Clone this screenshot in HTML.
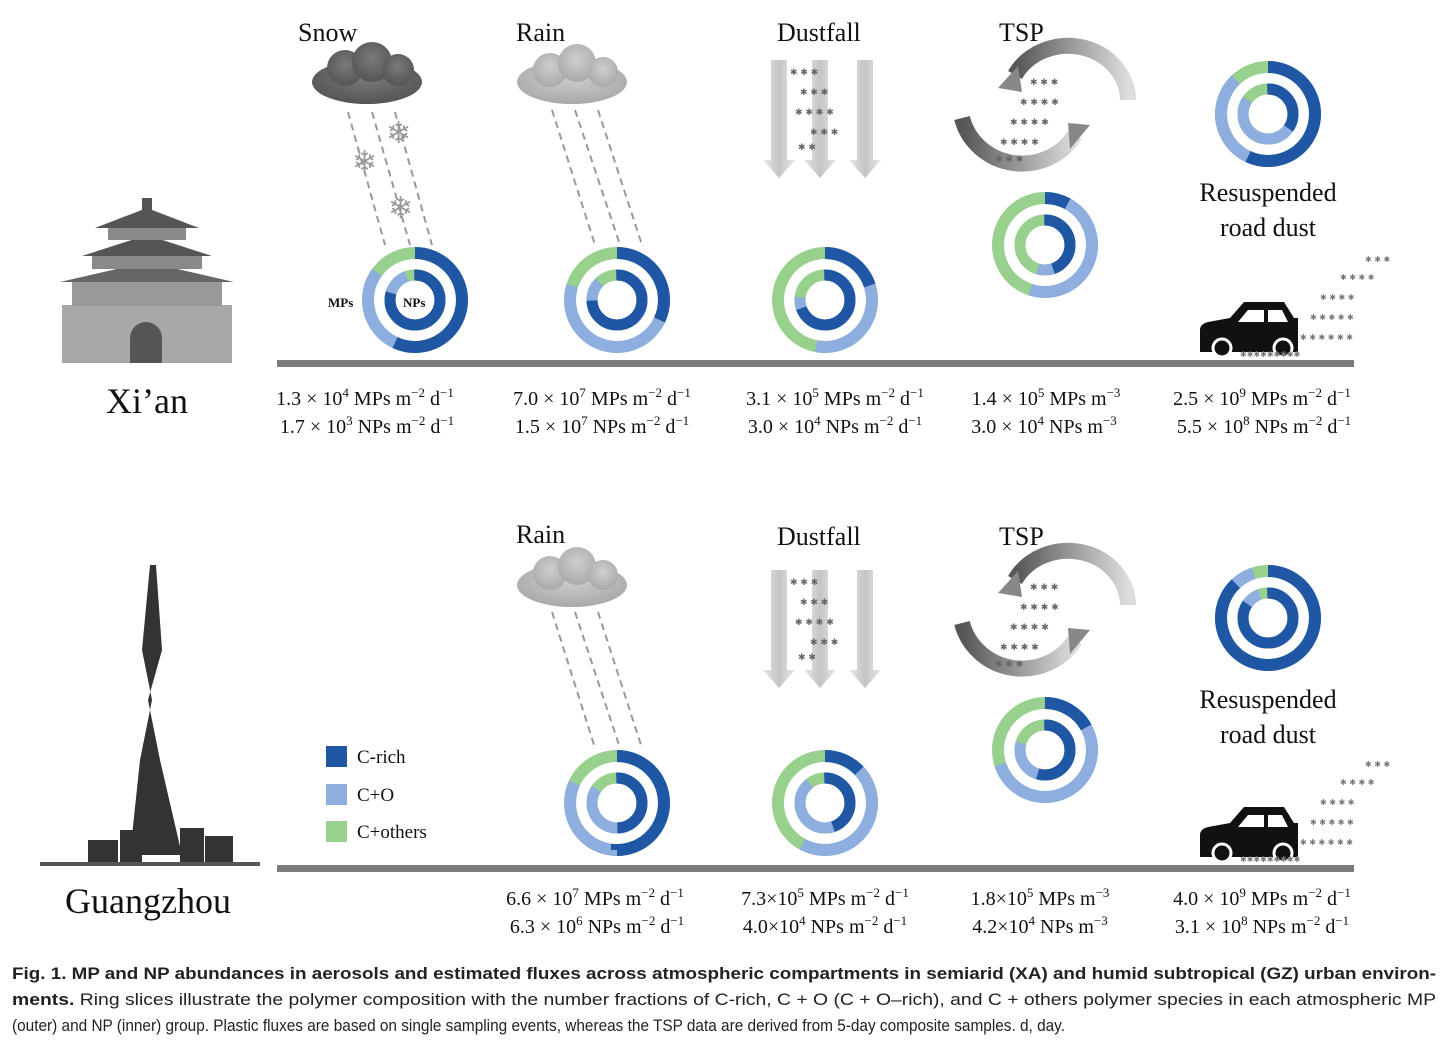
<!DOCTYPE html>
<html><head><meta charset="utf-8"><style>
html,body{margin:0;padding:0;background:#fff;}
svg{display:block;}
.t{font-family:"Liberation Serif",serif;fill:#111;}
.c{font-family:"Liberation Sans",sans-serif;fill:#222;font-size:17px;}
</style></head><body>
<svg width="1448" height="1048" viewBox="0 0 1448 1048" xmlns="http://www.w3.org/2000/svg">
<defs>
<g id="db"></g>
<radialGradient id="cl" cx="0.5" cy="0.4" r="0.6"><stop offset="0" stop-color="#cfcfcf"/><stop offset="1" stop-color="#a9a9a9"/></radialGradient>
<radialGradient id="cd" cx="0.5" cy="0.4" r="0.6"><stop offset="0" stop-color="#7a7a7a"/><stop offset="1" stop-color="#555"/></radialGradient>
<linearGradient id="ar" x1="0" x2="1"><stop offset="0" stop-color="#e8e8e8"/><stop offset="0.5" stop-color="#c4c4c4"/><stop offset="1" stop-color="#e8e8e8"/></linearGradient>
<linearGradient id="sw" x1="0" x2="1"><stop offset="0" stop-color="#555"/><stop offset="1" stop-color="#ddd"/></linearGradient>
</defs>

<!-- ground lines -->
<rect x="277" y="360" width="1077" height="7" fill="#7b7b7b"/>
<rect x="277" y="865" width="1077" height="7" fill="#7b7b7b"/>

<!-- titles -->
<g class="t" font-size="26">
<text x="298" y="41">Snow</text><text x="516" y="41">Rain</text><text x="777" y="41">Dustfall</text><text x="999" y="41">TSP</text>
<text x="516" y="543">Rain</text><text x="777" y="545">Dustfall</text><text x="999" y="545">TSP</text>
<text x="1268" y="201" text-anchor="middle">Resuspended</text><text x="1268" y="236" text-anchor="middle">road dust</text>
<text x="1268" y="708" text-anchor="middle">Resuspended</text><text x="1268" y="743" text-anchor="middle">road dust</text>
</g>
<text class="t" x="147" y="413" font-size="36" text-anchor="middle">Xi’an</text>
<text class="t" x="148" y="913" font-size="36" text-anchor="middle">Guangzhou</text>

<!-- clouds -->
<g fill="url(#cd)"><ellipse cx="367" cy="82" rx="55" ry="22"/><circle cx="345" cy="68" r="18"/><circle cx="372" cy="62" r="20"/><circle cx="398" cy="70" r="16"/></g>
<g fill="url(#cl)"><ellipse cx="572" cy="82" rx="55" ry="22"/><circle cx="550" cy="70" r="17"/><circle cx="577" cy="63" r="19"/><circle cx="603" cy="72" r="15"/></g>
<g fill="url(#cl)"><ellipse cx="572" cy="585" rx="55" ry="22"/><circle cx="550" cy="573" r="17"/><circle cx="577" cy="566" r="19"/><circle cx="603" cy="575" r="15"/></g>
<!-- precipitation lines -->
<g stroke="#999" stroke-width="2" stroke-dasharray="7 5">
<line x1="348" y1="112" x2="385" y2="245"/><line x1="372" y1="112" x2="410" y2="245"/><line x1="395" y1="112" x2="432" y2="245"/>
<line x1="552" y1="110" x2="595" y2="245"/><line x1="575" y1="110" x2="620" y2="245"/><line x1="598" y1="110" x2="642" y2="245"/>
<line x1="552" y1="612" x2="595" y2="748"/><line x1="575" y1="612" x2="620" y2="748"/><line x1="598" y1="612" x2="642" y2="748"/>
</g>
<g fill="#999" font-size="30" font-family="DejaVu Sans"><text x="352" y="172">❄</text><text x="386" y="143">❄</text><text x="388" y="218">❄</text></g>

<!-- dustfall arrows -->
<g fill="url(#ar)">
<path d="M771 60h16v100h8l-16 18l-16-18h8z"/><path d="M812 60h16v100h8l-16 18l-16-18h8z"/><path d="M857 60h16v100h8l-16 18l-16-18h8z"/>
<path d="M771 570h16v100h8l-16 18l-16-18h8z"/><path d="M812 570h16v100h8l-16 18l-16-18h8z"/><path d="M857 570h16v100h8l-16 18l-16-18h8z"/>
</g>
<g fill="#666" font-size="9" font-family="DejaVu Sans">
<text x="790" y="75">✱ ✱  ✱</text><text x="800" y="95">✱  ✱ ✱</text><text x="795" y="115">✱ ✱  ✱ ✱</text><text x="810" y="135">✱ ✱ ✱</text><text x="798" y="150">✱  ✱</text>
<text x="790" y="585">✱ ✱  ✱</text><text x="800" y="605">✱  ✱ ✱</text><text x="795" y="625">✱ ✱  ✱ ✱</text><text x="810" y="645">✱ ✱ ✱</text><text x="798" y="660">✱  ✱</text>
</g>
<!-- TSP swirl -->
<g fill="none" stroke-width="16">
<path d="M1128 100 A60 55 0 0 0 1015 75" stroke="url(#sw)"/><path d="M962 118 A62 60 0 0 0 1075 135" stroke="url(#sw)"/>
<path d="M1128 605 A60 55 0 0 0 1015 580" stroke="url(#sw)"/><path d="M962 623 A62 60 0 0 0 1075 640" stroke="url(#sw)"/>
</g>
<g fill="#888"><path d="M998 88l20-22l4 26z"/><path d="M1090 125l-20 24l-2-26z"/><path d="M998 593l20-22l4 26z"/><path d="M1090 630l-20 24l-2-26z"/></g>
<g fill="#666" font-size="9" font-family="DejaVu Sans">
<text x="1030" y="85">✱ ✱ ✱</text><text x="1020" y="105">✱ ✱ ✱ ✱</text><text x="1010" y="125">✱ ✱  ✱ ✱</text><text x="1000" y="145">✱ ✱ ✱ ✱</text><text x="995" y="162">✱ ✱ ✱</text>
<text x="1030" y="590">✱ ✱ ✱</text><text x="1020" y="610">✱ ✱ ✱ ✱</text><text x="1010" y="630">✱ ✱  ✱ ✱</text><text x="1000" y="650">✱ ✱ ✱ ✱</text><text x="995" y="667">✱ ✱ ✱</text>
</g>

<!-- cars -->
<g id="car">
<path d="M1200 352 v-22 q0-6 8-8 l22-4 l14-16 h40 l10 16 h4 v34 z" fill="#111"/>
<path d="M1248 310 h16 v12 h-26z M1268 310 h14 l6 12 h-20z" fill="#fff"/>
<circle cx="1222" cy="348" r="9" fill="#111" stroke="#fff" stroke-width="3"/><circle cx="1283" cy="348" r="9" fill="#111" stroke="#fff" stroke-width="3"/>
<g fill="#777" font-size="8" font-family="DejaVu Sans"><text x="1300" y="340">✱ ✱ ✱ ✱ ✱ ✱</text><text x="1310" y="320">✱ ✱ ✱ ✱ ✱</text><text x="1320" y="300">✱ ✱ ✱ ✱</text><text x="1340" y="280">✱ ✱ ✱ ✱</text><text x="1365" y="262">✱ ✱ ✱</text><text x="1240" y="357">✱✱✱✱✱✱✱✱✱</text></g>
</g>
<use href="#car" y="505"/>

<!-- Xi'an building -->
<g fill="#8a8a8a">
<rect x="62" y="305" width="170" height="58" fill="#a8a8a8"/>
<path d="M130 363v-25a16 16 0 0 1 32 0v25z" fill="#555"/>
<rect x="72" y="282" width="150" height="24" fill="#999"/>
<path d="M60 282 L147 262 L234 282z" fill="#666"/>
<rect x="92" y="255" width="110" height="14"/>
<path d="M82 256 L147 235 L212 256z" fill="#555"/>
<rect x="108" y="228" width="78" height="12"/>
<path d="M95 228 L147 208 L199 228z" fill="#555"/>
<rect x="142" y="198" width="10" height="12" fill="#555"/>
</g>
<!-- Canton tower -->
<g fill="#333">
<path d="M150 565 L156 565 L162 650 L148 700 L160 760 L182 855 L130 855 L140 760 L152 700 L142 650z"/>
<rect x="88" y="840" width="30" height="25"/><rect x="120" y="830" width="22" height="35"/><rect x="180" y="828" width="24" height="37"/><rect x="205" y="836" width="28" height="29"/>
<rect x="40" y="862" width="220" height="4" fill="#555"/>
</g>

<!-- legend -->
<rect x="326" y="746" width="21" height="21" fill="#1f57a4"/><rect x="326" y="784" width="21" height="21" fill="#8eaee0"/><rect x="326" y="821" width="21" height="21" fill="#97d18d"/>
<g class="t" font-size="19"><text x="357" y="763">C-rich</text><text x="357" y="801">C+O</text><text x="357" y="838">C+others</text></g>

<!-- donuts -->
<g fill="none" transform="rotate(-90 415 300)">
<circle cx="415" cy="300" r="47" stroke="#97d18d" stroke-width="12"/>
<circle cx="415" cy="300" r="47" stroke="#8eaee0" stroke-width="12" pathLength="100" stroke-dasharray="85 15"/>
<circle cx="415" cy="300" r="47" stroke="#1f57a4" stroke-width="12" pathLength="100" stroke-dasharray="57 43"/>
<circle cx="415" cy="300" r="25" stroke="#97d18d" stroke-width="11"/>
<circle cx="415" cy="300" r="25" stroke="#8eaee0" stroke-width="11" pathLength="100" stroke-dasharray="95 5"/>
<circle cx="415" cy="300" r="25" stroke="#1f57a4" stroke-width="11" pathLength="100" stroke-dasharray="80 20"/>
</g>
<text class="t" x="328" y="307" font-size="13" font-weight="bold">MPs</text>
<text class="t" x="403" y="307" font-size="13" font-weight="bold">NPs</text>

<g fill="none" transform="rotate(-90 617 300)">
<circle cx="617" cy="300" r="47" stroke="#97d18d" stroke-width="12"/>
<circle cx="617" cy="300" r="47" stroke="#8eaee0" stroke-width="12" pathLength="100" stroke-dasharray="80 20"/>
<circle cx="617" cy="300" r="47" stroke="#1f57a4" stroke-width="12" pathLength="100" stroke-dasharray="32 68"/>
<circle cx="617" cy="300" r="25" stroke="#97d18d" stroke-width="11"/>
<circle cx="617" cy="300" r="25" stroke="#8eaee0" stroke-width="11" pathLength="100" stroke-dasharray="88 12"/>
<circle cx="617" cy="300" r="25" stroke="#1f57a4" stroke-width="11" pathLength="100" stroke-dasharray="75 25"/>
</g>
<g fill="none" transform="rotate(-90 825 300)">
<circle cx="825" cy="300" r="47" stroke="#97d18d" stroke-width="12"/>
<circle cx="825" cy="300" r="47" stroke="#8eaee0" stroke-width="12" pathLength="100" stroke-dasharray="53 47"/>
<circle cx="825" cy="300" r="47" stroke="#1f57a4" stroke-width="12" pathLength="100" stroke-dasharray="20 80"/>
<circle cx="825" cy="300" r="25" stroke="#97d18d" stroke-width="11"/>
<circle cx="825" cy="300" r="25" stroke="#8eaee0" stroke-width="11" pathLength="100" stroke-dasharray="77 23"/>
<circle cx="825" cy="300" r="25" stroke="#1f57a4" stroke-width="11" pathLength="100" stroke-dasharray="70 30"/>
</g>
<g fill="none" transform="rotate(-90 1045 245)">
<circle cx="1045" cy="245" r="47" stroke="#97d18d" stroke-width="12"/>
<circle cx="1045" cy="245" r="47" stroke="#8eaee0" stroke-width="12" pathLength="100" stroke-dasharray="55 45"/>
<circle cx="1045" cy="245" r="47" stroke="#1f57a4" stroke-width="12" pathLength="100" stroke-dasharray="8 92"/>
<circle cx="1045" cy="245" r="25" stroke="#97d18d" stroke-width="11"/>
<circle cx="1045" cy="245" r="25" stroke="#8eaee0" stroke-width="11" pathLength="100" stroke-dasharray="55 45"/>
<circle cx="1045" cy="245" r="25" stroke="#1f57a4" stroke-width="11" pathLength="100" stroke-dasharray="45 55"/>
</g>
<g fill="none" transform="rotate(-90 1268 114)">
<circle cx="1268" cy="114" r="47" stroke="#97d18d" stroke-width="12"/>
<circle cx="1268" cy="114" r="47" stroke="#8eaee0" stroke-width="12" pathLength="100" stroke-dasharray="88 12"/>
<circle cx="1268" cy="114" r="47" stroke="#1f57a4" stroke-width="12" pathLength="100" stroke-dasharray="57 43"/>
<circle cx="1268" cy="114" r="25" stroke="#97d18d" stroke-width="11"/>
<circle cx="1268" cy="114" r="25" stroke="#8eaee0" stroke-width="11" pathLength="100" stroke-dasharray="85 15"/>
<circle cx="1268" cy="114" r="25" stroke="#1f57a4" stroke-width="11" pathLength="100" stroke-dasharray="35 65"/>
</g>
<g fill="none" transform="rotate(-90 617 803)">
<circle cx="617" cy="803" r="47" stroke="#97d18d" stroke-width="12"/>
<circle cx="617" cy="803" r="47" stroke="#8eaee0" stroke-width="12" pathLength="100" stroke-dasharray="82 18"/>
<circle cx="617" cy="803" r="47" stroke="#1f57a4" stroke-width="12" pathLength="100" stroke-dasharray="50 50"/>
<circle cx="617" cy="803" r="25" stroke="#97d18d" stroke-width="11"/>
<circle cx="617" cy="803" r="25" stroke="#8eaee0" stroke-width="11" pathLength="100" stroke-dasharray="85 15"/>
<circle cx="617" cy="803" r="25" stroke="#1f57a4" stroke-width="11" pathLength="100" stroke-dasharray="50 50"/>
</g>
<g fill="none" transform="rotate(-90 825 803)">
<circle cx="825" cy="803" r="47" stroke="#97d18d" stroke-width="12"/>
<circle cx="825" cy="803" r="47" stroke="#8eaee0" stroke-width="12" pathLength="100" stroke-dasharray="58 42"/>
<circle cx="825" cy="803" r="47" stroke="#1f57a4" stroke-width="12" pathLength="100" stroke-dasharray="13 87"/>
<circle cx="825" cy="803" r="25" stroke="#97d18d" stroke-width="11"/>
<circle cx="825" cy="803" r="25" stroke="#8eaee0" stroke-width="11" pathLength="100" stroke-dasharray="90 10"/>
<circle cx="825" cy="803" r="25" stroke="#1f57a4" stroke-width="11" pathLength="100" stroke-dasharray="45 55"/>
</g>
<g fill="none" transform="rotate(-90 1045 750)">
<circle cx="1045" cy="750" r="47" stroke="#97d18d" stroke-width="12"/>
<circle cx="1045" cy="750" r="47" stroke="#8eaee0" stroke-width="12" pathLength="100" stroke-dasharray="70 30"/>
<circle cx="1045" cy="750" r="47" stroke="#1f57a4" stroke-width="12" pathLength="100" stroke-dasharray="17 83"/>
<circle cx="1045" cy="750" r="25" stroke="#97d18d" stroke-width="11"/>
<circle cx="1045" cy="750" r="25" stroke="#8eaee0" stroke-width="11" pathLength="100" stroke-dasharray="80 20"/>
<circle cx="1045" cy="750" r="25" stroke="#1f57a4" stroke-width="11" pathLength="100" stroke-dasharray="55 45"/>
</g>
<g fill="none" transform="rotate(-90 1268 618)">
<circle cx="1268" cy="618" r="47" stroke="#97d18d" stroke-width="12"/>
<circle cx="1268" cy="618" r="47" stroke="#8eaee0" stroke-width="12" pathLength="100" stroke-dasharray="95 5"/>
<circle cx="1268" cy="618" r="47" stroke="#1f57a4" stroke-width="12" pathLength="100" stroke-dasharray="88 12"/>
<circle cx="1268" cy="618" r="25" stroke="#97d18d" stroke-width="11"/>
<circle cx="1268" cy="618" r="25" stroke="#8eaee0" stroke-width="11" pathLength="100" stroke-dasharray="95 5"/>
<circle cx="1268" cy="618" r="25" stroke="#1f57a4" stroke-width="11" pathLength="100" stroke-dasharray="85 15"/>
</g>

<!-- flux text -->
<g class="t" font-size="20" text-anchor="middle">
<text x="365" y="405">1.3 × 10<tspan font-size="13" dy="-8">4</tspan><tspan dy="8"> MPs m</tspan><tspan font-size="13" dy="-8">−2</tspan><tspan dy="8"> d</tspan><tspan font-size="13" dy="-8">−1</tspan></text>
<text x="367" y="433">1.7 × 10<tspan font-size="13" dy="-8">3</tspan><tspan dy="8"> NPs m</tspan><tspan font-size="13" dy="-8">−2</tspan><tspan dy="8"> d</tspan><tspan font-size="13" dy="-8">−1</tspan></text>
<text x="602" y="405">7.0 × 10<tspan font-size="13" dy="-8">7</tspan><tspan dy="8"> MPs m</tspan><tspan font-size="13" dy="-8">−2</tspan><tspan dy="8"> d</tspan><tspan font-size="13" dy="-8">−1</tspan></text>
<text x="602" y="433">1.5 × 10<tspan font-size="13" dy="-8">7</tspan><tspan dy="8"> NPs m</tspan><tspan font-size="13" dy="-8">−2</tspan><tspan dy="8"> d</tspan><tspan font-size="13" dy="-8">−1</tspan></text>
<text x="835" y="405">3.1 × 10<tspan font-size="13" dy="-8">5</tspan><tspan dy="8"> MPs m</tspan><tspan font-size="13" dy="-8">−2</tspan><tspan dy="8"> d</tspan><tspan font-size="13" dy="-8">−1</tspan></text>
<text x="835" y="433">3.0 × 10<tspan font-size="13" dy="-8">4</tspan><tspan dy="8"> NPs m</tspan><tspan font-size="13" dy="-8">−2</tspan><tspan dy="8"> d</tspan><tspan font-size="13" dy="-8">−1</tspan></text>
<text x="1046" y="405">1.4 × 10<tspan font-size="13" dy="-8">5</tspan><tspan dy="8"> MPs m</tspan><tspan font-size="13" dy="-8">−3</tspan></text>
<text x="1044" y="433">3.0 × 10<tspan font-size="13" dy="-8">4</tspan><tspan dy="8">  NPs m</tspan><tspan font-size="13" dy="-8">−3</tspan></text>
<text x="1262" y="405">2.5 × 10<tspan font-size="13" dy="-8">9</tspan><tspan dy="8"> MPs m</tspan><tspan font-size="13" dy="-8">−2</tspan><tspan dy="8"> d</tspan><tspan font-size="13" dy="-8">−1</tspan></text>
<text x="1264" y="433">5.5 × 10<tspan font-size="13" dy="-8">8</tspan><tspan dy="8"> NPs m</tspan><tspan font-size="13" dy="-8">−2</tspan><tspan dy="8"> d</tspan><tspan font-size="13" dy="-8">−1</tspan></text>

<text x="595" y="905">6.6 × 10<tspan font-size="13" dy="-8">7</tspan><tspan dy="8"> MPs m</tspan><tspan font-size="13" dy="-8">−2</tspan><tspan dy="8"> d</tspan><tspan font-size="13" dy="-8">−1</tspan></text>
<text x="597" y="933">6.3 × 10<tspan font-size="13" dy="-8">6</tspan><tspan dy="8"> NPs m</tspan><tspan font-size="13" dy="-8">−2</tspan><tspan dy="8"> d</tspan><tspan font-size="13" dy="-8">−1</tspan></text>
<text x="825" y="905">7.3×10<tspan font-size="13" dy="-8">5</tspan><tspan dy="8"> MPs m</tspan><tspan font-size="13" dy="-8">−2</tspan><tspan dy="8"> d</tspan><tspan font-size="13" dy="-8">−1</tspan></text>
<text x="825" y="933">4.0×10<tspan font-size="13" dy="-8">4</tspan><tspan dy="8"> NPs m</tspan><tspan font-size="13" dy="-8">−2</tspan><tspan dy="8"> d</tspan><tspan font-size="13" dy="-8">−1</tspan></text>
<text x="1040" y="905">1.8×10<tspan font-size="13" dy="-8">5</tspan><tspan dy="8"> MPs m</tspan><tspan font-size="13" dy="-8">−3</tspan></text>
<text x="1040" y="933">4.2×10<tspan font-size="13" dy="-8">4</tspan><tspan dy="8"> NPs m</tspan><tspan font-size="13" dy="-8">−3</tspan></text>
<text x="1262" y="905">4.0 × 10<tspan font-size="13" dy="-8">9</tspan><tspan dy="8"> MPs m</tspan><tspan font-size="13" dy="-8">−2</tspan><tspan dy="8"> d</tspan><tspan font-size="13" dy="-8">−1</tspan></text>
<text x="1262" y="933">3.1 × 10<tspan font-size="13" dy="-8">8</tspan><tspan dy="8"> NPs m</tspan><tspan font-size="13" dy="-8">−2</tspan><tspan dy="8"> d</tspan><tspan font-size="13" dy="-8">−1</tspan></text>
</g>

<!-- caption -->
<text class="c" x="12" y="979" font-weight="bold" textLength="1424" lengthAdjust="spacingAndGlyphs">Fig. 1. MP and NP abundances in aerosols and estimated fluxes across atmospheric compartments in semiarid (XA) and humid subtropical (GZ) urban environ-</text>
<text class="c" x="12" y="1005" textLength="1424" lengthAdjust="spacingAndGlyphs"><tspan font-weight="bold">ments.</tspan> Ring slices illustrate the polymer composition with the number fractions of C-rich, C + O (C + O–rich), and C + others polymer species in each atmospheric MP</text>
<text class="c" x="12" y="1031" textLength="1053" lengthAdjust="spacingAndGlyphs">(outer) and NP (inner) group. Plastic fluxes are based on single sampling events, whereas the TSP data are derived from 5-day composite samples. d, day.</text>
</svg>
</body></html>
